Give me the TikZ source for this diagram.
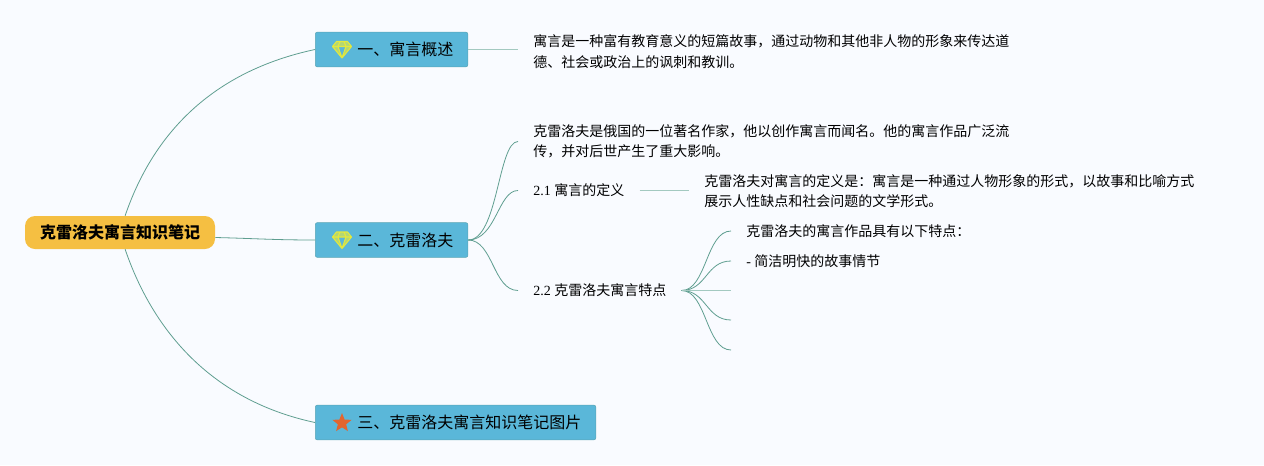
\documentclass[tikz,border=0pt]{standalone}
\usepackage{fontspec}
\setmainfont{Noto Sans CJK SC}
\newfontfamily\latfont{Liberation Serif}
\usetikzlibrary{shapes.geometric}
\definecolor{bgcol}{HTML}{F9FBFF}
\definecolor{rootcol}{HTML}{F5BF42}
\definecolor{topiccol}{HTML}{5AB7D9}
\definecolor{topicedge}{HTML}{5AA5B5}
\definecolor{linecol}{HTML}{5F9E90}
\definecolor{lightcol}{HTML}{A3C9C0}
\definecolor{gemcol}{HTML}{E4E83C}
\definecolor{starcol}{HTML}{E2652F}
\newcommand{\topictext}[1]{\hspace*{31.6pt}\raisebox{-0.9pt}{#1}\hspace*{10.85pt}}
\tikzset{
  rootbox/.style={fill=rootcol,rounded corners=7.5pt,minimum width=142.5pt,minimum height=24.75pt,inner sep=0pt,font=\fontsize{12}{14}\selectfont\bfseries},
  topicbox/.style={draw=topicedge,fill=topiccol,rounded corners=1.5pt,anchor=west,align=left,minimum height=26pt,inner ysep=0pt,inner xsep=0pt,font=\fontsize{12}{14}\selectfont},
  leaf/.style={anchor=west,align=left,inner xsep=11.25pt,inner ysep=0pt,font=\fontsize{10.5}{15.4}\selectfont},
  branch/.style={draw=linecol,line width=0.6pt},
  straight/.style={draw=lightcol,line width=1.2pt},
}
\begin{document}
\begin{tikzpicture}[x=0.75pt,y=-0.75pt]
\fill[bgcol] (0,0) rectangle (1264,465);
% main boxes
\node[rootbox] (root) at (120,232.5) {\raisebox{-0.6pt}{克雷洛夫寓言知识笔记}};
\node[topicbox] (one) at (315,49.5) {\topictext{一、寓言概述}};
\node[topicbox] (two) at (315,240) {\topictext{二、克雷洛夫}};
\node[topicbox] (three) at (315,422.5) {\topictext{三、克雷洛夫寓言知识笔记图片}};
% leaves
\node[leaf] (oneText) at (518,51.5) {寓言是一种富有教育意义的短篇故事，通过动物和其他非人物的形象来传达道\\德、社会或政治上的讽刺和教训。};
\node[leaf] (twoText) at (518,141.5) {克雷洛夫是俄国的一位著名作家，他以创作寓言而闻名。他的寓言作品广泛流\\传，并对后世产生了重大影响。};
\node[leaf] (defTitle) at (518,190.5) {{\latfont 2.1 }寓言的定义};
\node[leaf] (defText) at (689,191) {克雷洛夫对寓言的定义是：寓言是一种通过人物形象的形式，以故事和比喻方式\\展示人性缺点和社会问题的文学形式。};
\node[leaf] (featTitle) at (518,290.5) {{\latfont 2.2 }克雷洛夫寓言特点};
\node[leaf] (featA) at (731,231) {克雷洛夫的寓言作品具有以下特点：};
\node[leaf] (featB) at (731,261) {{\latfont - }简洁明快的故事情节};
\coordinate (featC) at (731,290.5);
\coordinate (featD) at (731,320);
\coordinate (featE) at (731,350);
% connectors
\draw[branch] (root.73) .. controls +(28,-82) and +(-103,22) .. (one.west);
\draw[branch] (root.-3.3) .. controls +(40,1) and +(-40,0) .. (two.west);
\draw[branch] (root.-73) .. controls +(28,82) and +(-103,-22) .. (three.west);
\draw[straight] (one.east) -- (one.east -| oneText.west);
\draw[branch] (two.east) .. controls +(30,0) and +(-20,0) .. (twoText.west);
\draw[branch] (two.east) .. controls +(28,0) and +(-20,0) .. (defTitle.west);
\draw[branch] (two.east) .. controls +(25,0) and +(-25,0) .. (featTitle.west);
\draw[straight] (defTitle.east) -- (defTitle.east -| defText.west);
\foreach \leafname in {featA,featB,featD,featE}
  \draw[branch] (featTitle.east) .. controls +(25,0) and +(-25,0) .. (\leafname.west);
\draw[straight] (featTitle.east) -- (featC);
% icons
\foreach \gemy in {49.5,240}
  \draw[fill=gemcol!65!topiccol,draw=gemcol,line width=0.8pt,line join=round]
    (336.5,\gemy-8) -- (347.5,\gemy-8) -- (351.5,\gemy-3) -- (342,\gemy+8.5) -- (332.5,\gemy-3) -- cycle
    (332.5,\gemy-3) -- (351.5,\gemy-3) (338,\gemy-3) -- (342,\gemy+8.5) -- (346,\gemy-3)
    (338,\gemy-3) -- (340,\gemy-8) (346,\gemy-3) -- (344,\gemy-8);
\node[star,star points=5,star point ratio=2.3,fill=starcol,inner sep=0pt,minimum size=15pt] (starIcon) at (342,423) {};
\end{tikzpicture}
\end{document}
